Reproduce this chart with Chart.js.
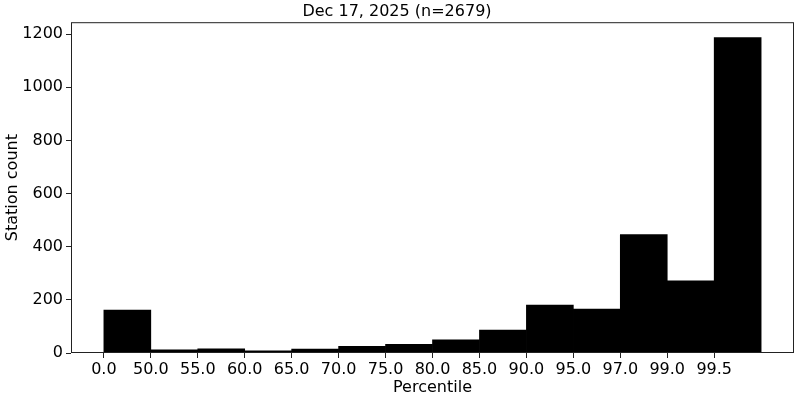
<!DOCTYPE html>
<html>
<head>
<meta charset="utf-8">
<script src="https://cdn.jsdelivr.net/npm/chart.js@4/dist/chart.umd.min.js"></script>
<style>
  html, body { margin: 0; padding: 0; background: #fff; }
  #wrap { width: 800px; height: 401px; }
</style>
</head>
<body>
<div id="wrap"><canvas id="histChart"></canvas></div>
<script>
const binLabels = ["0.0", "50.0", "55.0", "60.0", "65.0", "70.0", "75.0", "80.0", "85.0", "90.0", "95.0", "97.0", "99.0", "99.5"];
const stationCounts = [162, 12, 16, 8, 15, 25, 33, 50, 86, 180, 165, 446, 272, 1187];
const yTicks = [0, 200, 400, 600, 800, 1000, 1200];
const titleText = "Dec 17, 2025 (n=2679)";

const font = "'DejaVu Sans', sans-serif";

// box around the plot area like matplotlib's spines
const framePlugin = {
  id: "frame",
  afterDatasetsDraw(chart) {
    const { ctx, chartArea: a } = chart;
    ctx.save();
    ctx.strokeStyle = "#222";
    ctx.lineWidth = 1;
    ctx.strokeRect(a.left + 0.5, a.top + 0.5, a.right - a.left - 1, a.bottom - a.top - 1);
    ctx.restore();
  }
};

new Chart(document.getElementById("histChart"), {
  type: "bar",
  data: {
    datasets: [{
      data: stationCounts.map((v, i) => ({ x: i + 0.5, y: v })),
      backgroundColor: "#000",
      borderWidth: 0,
      barPercentage: 1,
      categoryPercentage: 1
    }]
  },
  options: {
    responsive: true,
    maintainAspectRatio: false,
    animation: false,
    layout: { padding: { top: 0, right: 6, bottom: 0, left: 0 } },
    plugins: {
      legend: { display: false },
      tooltip: { enabled: false },
      title: {
        display: true,
        text: titleText,
        color: "#000",
        font: { family: font, size: 16, weight: "normal" },
        padding: { top: 2, bottom: 1 }
      }
    },
    scales: {
      x: {
        type: "linear",
        offset: false,
        min: -0.7,
        max: 14.7,
        afterBuildTicks: (scale) => {
          scale.ticks = binLabels.map((_, i) => ({ value: i }));
        },
        afterFit: (scale) => { scale.height = 48; },
        ticks: {
          color: "#000",
          font: { family: font, size: 16 },
          padding: 2,
          maxRotation: 0,
          autoSkip: false,
          callback: (v) => binLabels[v]
        },
        grid: { display: true, offset: false, drawOnChartArea: false, drawTicks: true, tickLength: 5, color: "#222" },
        border: { display: false },
        title: {
          display: true,
          text: "Percentile",
          color: "#000",
          font: { family: font, size: 16 },
          padding: { top: 0, bottom: 4 }
        }
      },
      y: {
        min: 0,
        max: 1245,
        afterBuildTicks: (scale) => {
          scale.ticks = yTicks.map(v => ({ value: v }));
        },
        afterFit: (scale) => { scale.width = 71; },
        ticks: {
          color: "#000",
          font: { family: font, size: 16 },
          padding: 3,
          callback: (v) => String(v)
        },
        grid: { display: true, drawOnChartArea: false, drawTicks: true, tickLength: 5, color: "#222" },
        border: { display: false },
        title: {
          display: true,
          text: "Station count",
          color: "#000",
          font: { family: font, size: 16 },
          padding: { top: 3, bottom: 0 }
        }
      }
    }
  },
  plugins: [framePlugin]
});
</script>
</body>
</html>
